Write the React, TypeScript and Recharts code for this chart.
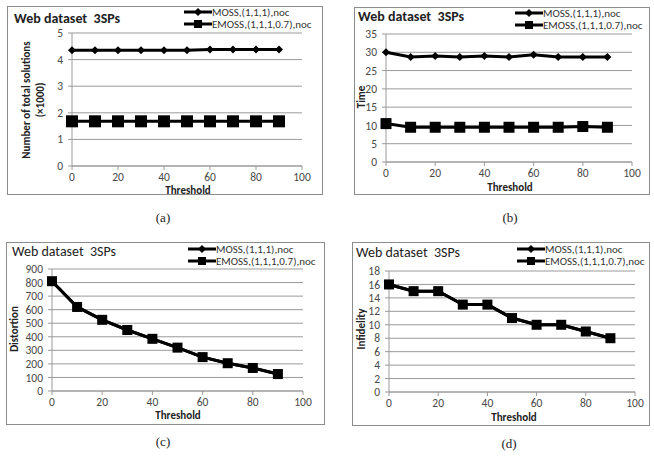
import { LineChart, Line, XAxis, YAxis, CartesianGrid } from 'recharts'

const thresholds = [0, 10, 20, 30, 40, 50, 60, 70, 80, 90]
const xTicks = [0, 20, 40, 60, 80, 100]

// number of total solutions (x1000)
const solMoss = [4.35, 4.35, 4.35, 4.35, 4.35, 4.35, 4.38, 4.38, 4.38, 4.38]
const solEmoss = [1.68, 1.68, 1.68, 1.68, 1.68, 1.68, 1.68, 1.68, 1.68, 1.68]
const solTicks = [0, 1, 2, 3, 4, 5]

// time
const timeMoss = [30, 28.7, 29, 28.7, 29, 28.7, 29.3, 28.7, 28.7, 28.7]
const timeEmoss = [10.5, 9.5, 9.5, 9.5, 9.5, 9.5, 9.5, 9.5, 9.7, 9.5]
const timeTicks = [0, 5, 10, 15, 20, 25, 30, 35]

// distortion
const distMoss = [810, 620, 525, 450, 385, 320, 250, 205, 170, 125]
const distEmoss = [810, 620, 525, 450, 385, 320, 250, 205, 170, 125]
const distTicks = [0, 100, 200, 300, 400, 500, 600, 700, 800, 900]

// infidelity
const infMoss = [16, 15, 15, 13, 13, 11, 10, 10, 9, 8]
const infEmoss = [16, 15, 15, 13, 13, 11, 10, 10, 9, 8]
const infTicks = [0, 2, 4, 6, 8, 10, 12, 14, 16, 18]

const seriesNames = ['MOSS,(1,1,1),noc', 'EMOSS,(1,1,1,0.7),noc']

const FONT = "Carlito, 'Liberation Sans Narrow', 'Liberation Sans', Arial, sans-serif"
const GRID = '#9a9a9a'
const TICK = '#4a4a4a'

const YW = 40
const RM = 10
const TM = 10
const XH = 26

type PanelDef = {
  moss: number[]
  emoss: number[]
  yTicks: number[]
  yLabel: string[]
  caption: string
  boldTitle: boolean
  frame: { x: number; y: number; w: number; h: number }
  plot: { x0: number; x1: number; yTop: number; yBot: number }
  title: { x: number; y: number }
  legend: { x: number; y: number }
  yLab: { x: number; y: number }
  thr: { x: number; y: number }
  cap: { x: number; y: number }
  square: number
}

const panels: PanelDef[] = [
  {
    moss: solMoss, emoss: solEmoss, yTicks: solTicks,
    yLabel: ['Number of total solutions', '(\u00d71000)'], caption: '(a)', boldTitle: true,
    frame: { x: 7, y: 6, w: 316, h: 189 },
    plot: { x0: 72, x1: 302, yTop: 33, yBot: 166 },
    title: { x: 14, y: 19 }, legend: { x: 184, y: 12 }, yLab: { x: 34, y: 100 },
    thr: { x: 188, y: 189.5 }, cap: { x: 163, y: 218 }, square: 12,
  },
  {
    moss: timeMoss, emoss: timeEmoss, yTicks: timeTicks,
    yLabel: ['Time'], caption: '(b)', boldTitle: true,
    frame: { x: 354, y: 7, w: 296, h: 188 },
    plot: { x0: 386, x1: 632, yTop: 34, yBot: 162 },
    title: { x: 358, y: 17 }, legend: { x: 515, y: 13 }, yLab: { x: 362, y: 97 },
    thr: { x: 510, y: 187 }, cap: { x: 510, y: 218 }, square: 11,
  },
  {
    moss: distMoss, emoss: distEmoss, yTicks: distTicks,
    yLabel: ['Distortion'], caption: '(c)', boldTitle: false,
    frame: { x: 6, y: 242, w: 319, h: 183 },
    plot: { x0: 52, x1: 303, yTop: 269, yBot: 391 },
    title: { x: 12, y: 252 }, legend: { x: 188, y: 249 }, yLab: { x: 15, y: 329 },
    thr: { x: 178, y: 415 }, cap: { x: 163, y: 442 }, square: 10,
  },
  {
    moss: infMoss, emoss: infEmoss, yTicks: infTicks,
    yLabel: ['Infidelity'], caption: '(d)', boldTitle: false,
    frame: { x: 352, y: 242, w: 298, h: 184 },
    plot: { x0: 389, x1: 635, yTop: 271, yBot: 392 },
    title: { x: 356, y: 253 }, legend: { x: 517, y: 249 }, yLab: { x: 362, y: 329 },
    thr: { x: 514, y: 417 }, cap: { x: 509, y: 444 }, square: 10,
  },
]

function diamondDot(props: any) {
  const { cx, cy, index } = props
  if (cx == null || cy == null) return <g key={index} />
  const r = 4
  return (
    <polygon
      key={index}
      points={`${cx},${cy - r} ${cx + r},${cy} ${cx},${cy + r} ${cx - r},${cy}`}
      fill="#000"
    />
  )
}

function squareDot(size: number) {
  return (props: any) => {
    const { cx, cy, index } = props
    if (cx == null || cy == null) return <g key={index} />
    return <rect key={index} x={cx - size / 2} y={cy - size / 2} width={size} height={size} fill="#000" />
  }
}

function LegendRow({ label, marker }: { label: string; marker: 'diamond' | 'square' }) {
  return (
    <div style={{ display: 'flex', alignItems: 'center', height: 12 }}>
      <svg width={28} height={12} style={{ display: 'block' }}>
        <line x1={0} y1={6} x2={28} y2={6} stroke="#000" strokeWidth={3} />
        {marker === 'diamond' ? (
          <polygon points="14,2 18,6 14,10 10,6" fill="#000" />
        ) : (
          <rect x={10} y={2} width={8} height={8} fill="#000" />
        )}
      </svg>
      <span style={{ fontSize: 11, color: '#333', whiteSpace: 'nowrap' }}>{label}</span>
    </div>
  )
}

function Panel({ p }: { p: PanelDef }) {
  const data = thresholds.map((t, i) => ({ t, moss: p.moss[i], emoss: p.emoss[i] }))
  const { x0, x1, yTop, yBot } = p.plot
  const W = x1 - x0 + YW + RM
  const H = yBot - yTop + TM + XH
  const yMax = p.yTicks[p.yTicks.length - 1]
  const tick = { fontSize: 11.5, fill: TICK, fontFamily: FONT }

  return (
    <>
      <div
        style={{
          position: 'absolute', left: p.frame.x, top: p.frame.y,
          width: p.frame.w, height: p.frame.h, border: '1.5px solid #8c8c8c', boxSizing: 'border-box',
        }}
      />
      <div style={{ position: 'absolute', left: x0 - YW, top: yTop - TM }}>
        <LineChart width={W} height={H} data={data} margin={{ top: TM, right: RM, left: 0, bottom: 0 }}>
          <CartesianGrid vertical={false} stroke={GRID} strokeWidth={1} />
          <XAxis
            type="number" dataKey="t" domain={[0, 100]} ticks={xTicks} height={XH}
            stroke={GRID} tickSize={4} tickMargin={3} tick={tick} interval={0}
          />
          <YAxis
            type="number" domain={[0, yMax]} ticks={p.yTicks} width={YW}
            stroke={GRID} tickSize={4} tickMargin={5} tick={tick} interval={0}
          />
          <Line
            dataKey="moss" stroke="#000" strokeWidth={3} isAnimationActive={false}
            dot={diamondDot} activeDot={false}
          />
          <Line
            dataKey="emoss" stroke="#000" strokeWidth={3} isAnimationActive={false}
            dot={squareDot(p.square)} activeDot={false}
          />
        </LineChart>
      </div>
      <div
        style={{
          position: 'absolute', left: p.title.x, top: p.title.y - 7, fontSize: 14, lineHeight: '14px',
          fontWeight: p.boldTitle ? 'bold' : 'normal', color: '#222', whiteSpace: 'pre',
        }}
      >
        {'Web dataset  3SPs'}
      </div>
      <div style={{ position: 'absolute', left: p.legend.x, top: p.legend.y - 6 }}>
        <LegendRow label={seriesNames[0]} marker="diamond" />
        <LegendRow label={seriesNames[1]} marker="square" />
      </div>
      <div
        style={{
          position: 'absolute', left: p.yLab.x, top: p.yLab.y, width: 0, height: 0,
        }}
      >
        <div
          style={{
            position: 'absolute', left: 0, top: 0, transform: 'translate(-50%, -50%) rotate(-90deg)',
            fontSize: 11, fontWeight: 'bold', color: '#222', whiteSpace: 'nowrap', textAlign: 'center',
            lineHeight: '14px',
          }}
        >
          {p.yLabel.map((l) => (
            <div key={l}>{l}</div>
          ))}
        </div>
      </div>
      <div
        style={{
          position: 'absolute', left: p.thr.x, top: p.thr.y, transform: 'translate(-50%, -50%)',
          fontSize: 11, lineHeight: '11px', fontWeight: 'bold', color: '#222',
        }}
      >
        Threshold
      </div>
      <div
        style={{
          position: 'absolute', left: p.cap.x, top: p.cap.y, transform: 'translate(-50%, -50%)',
          fontSize: 13, fontFamily: "'Liberation Serif', 'Times New Roman', serif", color: '#222',
        }}
      >
        {p.caption}
      </div>
    </>
  )
}

export default function App() {
  return (
    <div
      style={{
        position: 'absolute', left: 0, top: 0, width: 654, height: 458,
        background: '#fff', fontFamily: FONT, overflow: 'hidden',
      }}
    >
      {panels.map((p) => (
        <Panel key={p.caption} p={p} />
      ))}
    </div>
  )
}
